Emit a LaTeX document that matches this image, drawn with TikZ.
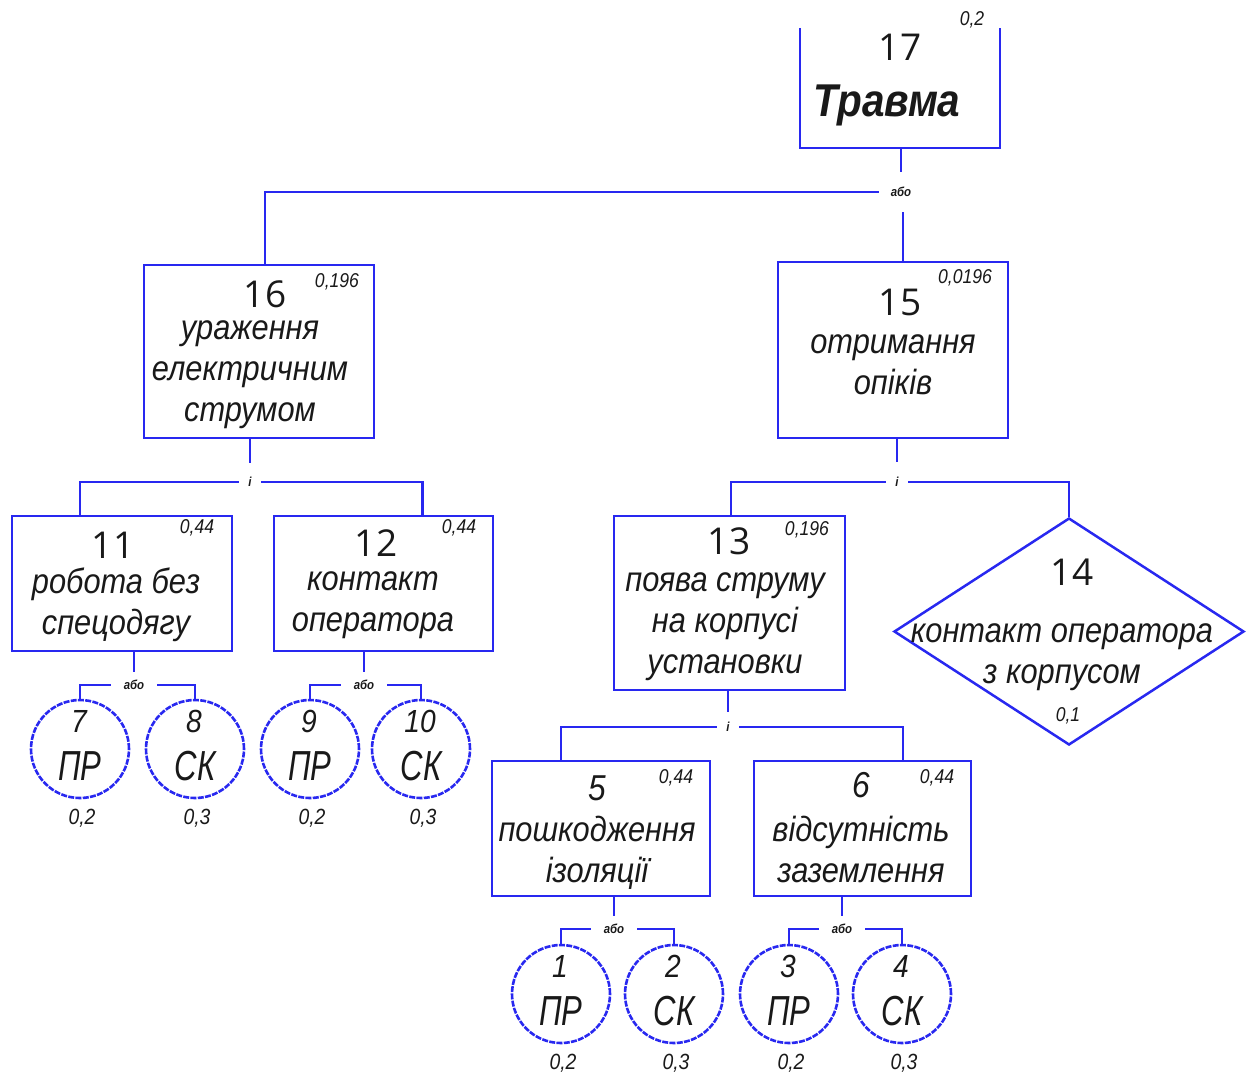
\documentclass[tikz,border=0pt]{standalone}
\usepackage{fontspec}
\usetikzlibrary{shapes.geometric}
\newfontfamily\numfont{Open Sans}
\newfontfamily\labfont[FakeStretch=0.88]{Liberation Sans}
\newfontfamily\condfont[FakeStretch=0.74]{Liberation Sans}
\definecolor{ftblue}{RGB}{40,40,240}
\definecolor{ink}{RGB}{25,25,25}
\tikzset{
  box/.style={draw=ftblue, line width=2.5pt, rectangle, inner sep=0pt},
  evt/.style={circle, draw=ftblue, line width=2.6pt, dash pattern=on 6pt off 1.3pt,
              minimum size=98pt, inner sep=0pt},
  cond/.style={diamond, draw=ftblue, line width=2.5pt, inner sep=0pt},
  conn/.style={draw=ftblue, line width=2.5pt},
  gate/.style={rectangle, inner sep=0pt, text=ink,
               font=\labfont\itshape\bfseries\fontsize{13}{14}\selectfont},
  num/.style={inner sep=0pt, text=ink, font=\numfont\fontsize{37}{40}\selectfont},
  inum/.style={inner sep=0pt, text=ink, font=\labfont\itshape\fontsize{36}{40}\selectfont},
  lab/.style={inner sep=0pt, text=ink, align=center,
              font=\labfont\itshape\fontsize{35}{41}\selectfont},
  title/.style={inner sep=0pt, text=ink, font=\labfont\itshape\bfseries\fontsize{46}{50}\selectfont},
  prob/.style={inner sep=0pt, text=ink, font=\labfont\itshape\fontsize{20}{22}\selectfont},
  eprob/.style={inner sep=0pt, text=ink, font=\labfont\itshape\fontsize{22}{24}\selectfont},
  enum/.style={inner sep=0pt, text=ink, font=\labfont\itshape\fontsize{32}{34}\selectfont},
  ecode/.style={inner sep=0pt, text=ink, font=\condfont\itshape\fontsize{42}{44}\selectfont},
}
\begin{document}
\begin{tikzpicture}[x=1pt,y=-1pt]
\useasboundingbox (0,0) rectangle (1246,1076);

% ---- top event (box open at the top)
\node (b17) [minimum width=200pt, minimum height=120pt, inner sep=0pt] at (900,88) {};
\draw[conn] (b17.north west) -- (b17.south west) -- (b17.south east) -- (b17.north east);
\node[num] at (900,47) {17};
\node[title] at (887,105) {Травма};
\node[prob] at (972,20) {0,2};

% ---- intermediate events
\node (b16) [box, minimum width=230pt, minimum height=173pt] at (259,351.5) {};
\node[num] at (265,294) {16};
\node[prob] at (337,282) {0,196};
\node[lab] at (250,375) {ураження\\електричним\\струмом};

\node (b15) [box, minimum width=230pt, minimum height=176pt] at (893,350) {};
\node[num] at (900,302) {15};
\node[prob] at (965,278) {0,0196};
\node[lab] at (893,365) {отримання\\опіків};

\node (b11) [box, minimum width=220pt, minimum height=135pt] at (122,583.5) {};
\node[num] at (113,545) {11};
\node[prob] at (197,528) {0,44};
\node[lab] at (116,605) {робота без\\спецодягу};

\node (b12) [box, minimum width=219pt, minimum height=135pt] at (383.5,583.5) {};
\node[num] at (376,543) {12};
\node[prob] at (459,528) {0,44};
\node[lab] at (373,605) {контакт\\оператора};

\node (b13) [box, minimum width=231pt, minimum height=174pt] at (729.5,603) {};
\node[num] at (729,541) {13};
\node[prob] at (807,530) {0,196};
\node[lab] at (725,627) {поява струму\\на корпусі\\установки};

\node (d14) [cond, minimum width=350pt, minimum height=227pt] at (1069,631.5) {};
\node[num] at (1072,572) {14};
\node[lab] at (1062,657) {контакт оператора\\з корпусом};
\node[prob] at (1068,716) {0,1};

\node (b5) [box, minimum width=218pt, minimum height=135pt] at (601,828.5) {};
\node[inum] at (597,788) {5};
\node[prob] at (676,778) {0,44};
\node[lab] at (597,853) {пошкодження\\ізоляції};

\node (b6) [box, minimum width=217pt, minimum height=135pt] at (862.5,828.5) {};
\node[inum] at (861,785) {6};
\node[prob] at (937,778) {0,44};
\node[lab] at (861,849) {відсутність\\заземлення};

% ---- basic events
\foreach \n/\x/\y/\code/\p in {7/80/749/ПР/{0,2}, 8/195/749/СК/{0,3},
                               9/310/749/ПР/{0,2}, 10/421/749/СК/{0,3},
                               1/561/994/ПР/{0,2}, 2/674/994/СК/{0,3},
                               3/789/994/ПР/{0,2}, 4/902/994/СК/{0,3}}{
  \node (c\n) [evt] at (\x,\y) {};
  \node[enum] at (\x-1,\y-28) {\n};
  \node[ecode] at (\x,\y+17) {\code};
  \node[eprob] at (\x+2,\y+69) {\p};
}

% ---- gates
\node (g17) [gate, minimum width=44pt, minimum height=40pt] at (901,192) {або};
\node (g16) [gate, minimum width=22pt, minimum height=38pt] at (250,482) {і};
\node (g15) [gate, minimum width=22pt, minimum height=40pt] at (897,482) {і};
\node (g11) [gate, minimum width=46pt, minimum height=26pt] at (134,685) {або};
\node (g12) [gate, minimum width=46pt, minimum height=26pt] at (364,685) {або};
\node (g13) [gate, minimum width=22pt, minimum height=30pt] at (728,727) {і};
\node (g5)  [gate, minimum width=46pt, minimum height=26pt] at (614,929) {або};
\node (g6)  [gate, minimum width=46pt, minimum height=26pt] at (842,929) {або};

% ---- connectors
\draw[conn] (g17.north |- b17.south) -- (g17.north);
\draw[conn] (g17.west) -| ([xshift=6pt]b16.north);
\draw[conn] ([xshift=2pt]g17.south) -- ([xshift=2pt]g17.south |- b15.north);

\draw[conn] (g16.north |- b16.south) -- (g16.north);
\draw[conn] (g16.west) -| ([xshift=-42pt]b11.north);
\draw[conn] (g16.east) -| ([xshift=39pt]b12.north);

\draw[conn] (g15.north |- b15.south) -- (g15.north);
\draw[conn] (g15.west) -| ([xshift=1.5pt]b13.north);
\draw[conn] (g15.east) -| (d14.north);

\draw[conn] (g13.north |- b13.south) -- (g13.north);
\draw[conn] (g13.west) -| ([xshift=-40pt]b5.north);
\draw[conn] (g13.east) -| ([xshift=40.5pt]b6.north);

\draw[conn] (g11.north |- b11.south) -- (g11.north);
\draw[conn] (g11.west) -| (c7.north);
\draw[conn] (g11.east) -| (c8.north);

\draw[conn] (g12.north |- b12.south) -- (g12.north);
\draw[conn] (g12.west) -| (c9.north);
\draw[conn] (g12.east) -| (c10.north);

\draw[conn] (g5.north |- b5.south) -- (g5.north);
\draw[conn] (g5.west) -| (c1.north);
\draw[conn] (g5.east) -| (c2.north);

\draw[conn] (g6.north |- b6.south) -- (g6.north);
\draw[conn] (g6.west) -| (c3.north);
\draw[conn] (g6.east) -| (c4.north);
\end{tikzpicture}
\end{document}
